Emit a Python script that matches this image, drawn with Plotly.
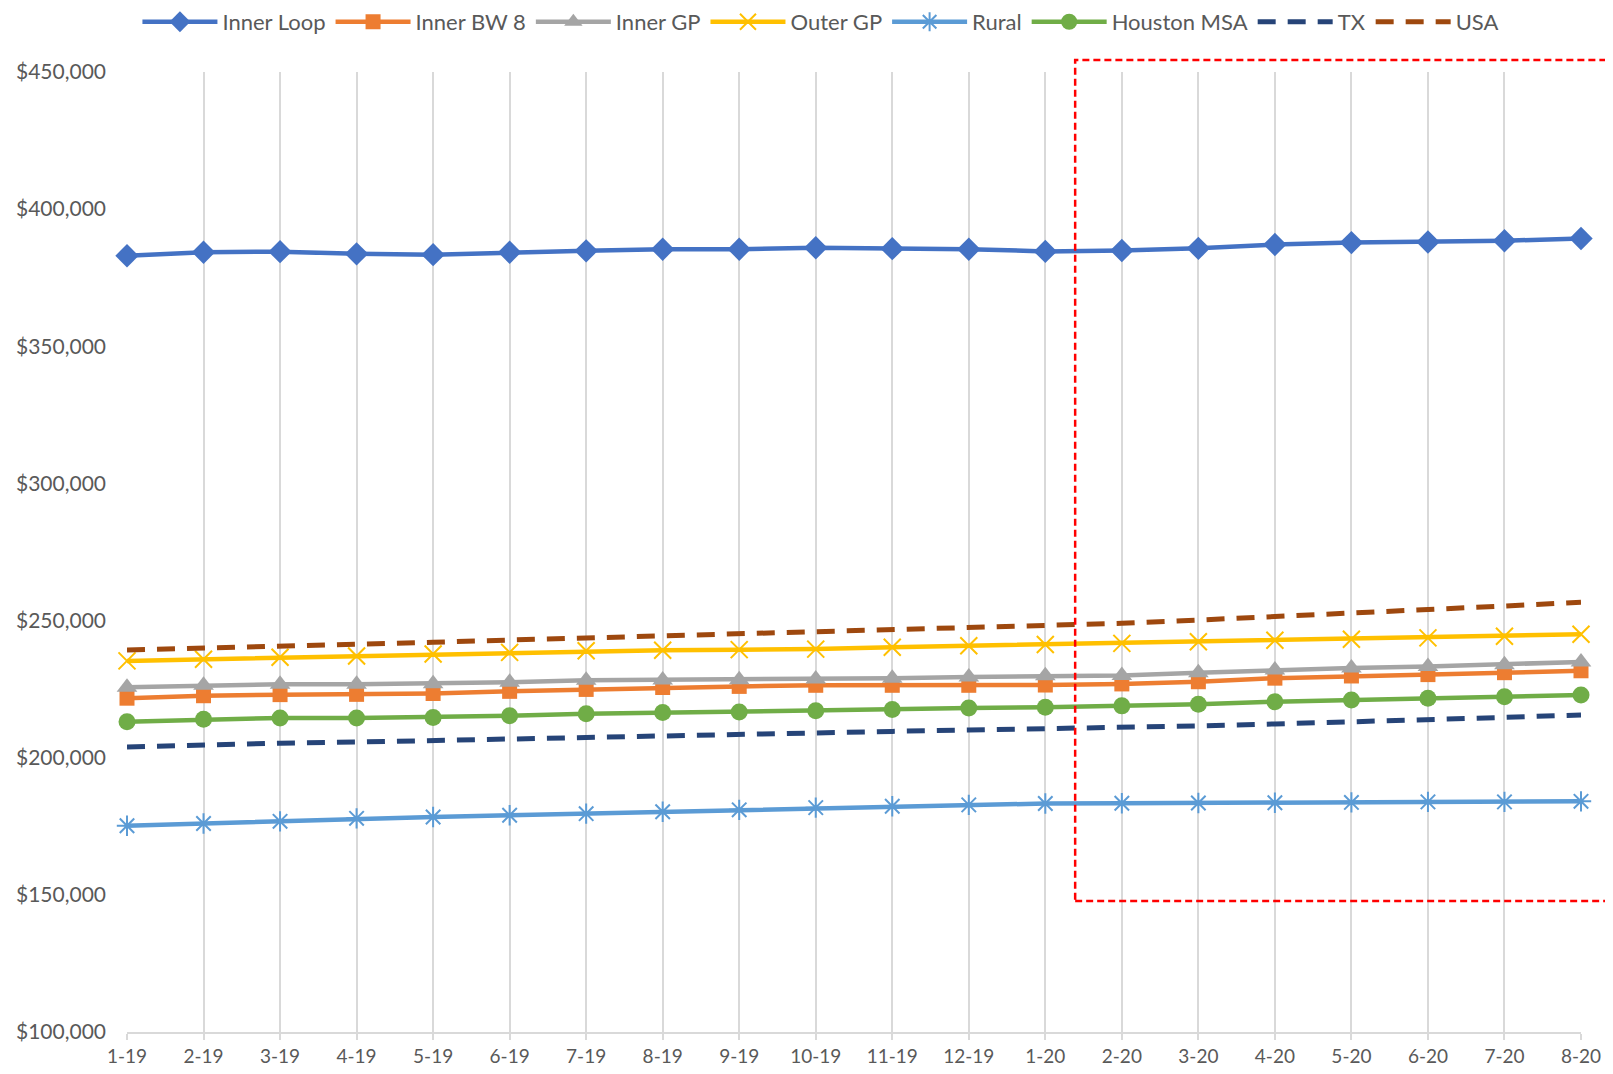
import plotly.graph_objects as go

months = ["1-19", "2-19", "3-19", "4-19", "5-19", "6-19", "7-19", "8-19", "9-19", "10-19",
          "11-19", "12-19", "1-20", "2-20", "3-20", "4-20", "5-20", "6-20", "7-20", "8-20"]

inner_loop = [383.0, 384.3, 384.5, 383.7, 383.4, 384.3, 384.8, 385.4, 385.4, 385.9,
              385.6, 385.4, 384.6, 384.9, 385.7, 387.1, 387.8, 388.0, 388.5, 389.3]
inner_bw8 = [221.7, 222.6, 223.0, 223.1, 223.4, 224.2, 224.9, 225.6, 226.0, 226.4,
             226.4, 226.4, 226.5, 226.9, 227.7, 229.0, 229.8, 230.3, 231.0, 231.7]
inner_gp = [225.7, 226.4, 226.8, 226.8, 227.0, 227.5, 228.2, 228.3, 228.4, 228.7,
            229.0, 229.4, 229.9, 230.0, 231.0, 232.0, 232.7, 233.3, 233.9, 234.9]
outer_gp = [235.3, 235.9, 236.6, 237.1, 237.8, 238.4, 239.0, 239.2, 239.4, 239.6,
            240.3, 240.8, 241.3, 241.7, 242.3, 242.8, 243.2, 243.7, 244.3, 245.0]
rural = [175.2, 176.0, 176.8, 177.9, 178.4, 179.0, 179.6, 180.3, 181.0, 181.8,
         182.3, 182.8, 183.3, 183.4, 183.5, 183.6, 183.7, 183.9, 183.9, 184.1]
houston_msa = [213.1, 214.0, 214.5, 214.5, 214.7, 215.3, 216.0, 216.5, 216.7, 217.1,
               217.6, 218.1, 218.4, 218.9, 219.5, 220.4, 221.0, 221.7, 222.2, 222.9]
tx = [203.9, 204.8, 205.3, 205.7, 206.3, 207.0, 207.6, 208.2, 208.7, 209.2,
      209.6, 210.1, 210.5, 210.8, 211.6, 212.3, 213.0, 213.9, 214.7, 215.6]
usa = [239.3, 239.9, 240.5, 241.3, 242.1, 242.9, 243.7, 244.4, 245.2, 245.9,
       246.7, 247.4, 248.1, 249.0, 250.2, 251.4, 252.6, 253.9, 255.3, 256.7]

y_ticks = [100000, 150000, 200000, 250000, 300000, 350000, 400000, 450000]
y_tick_labels = ["$100,000", "$150,000", "$200,000", "$250,000",
                 "$300,000", "$350,000", "$400,000", "$450,000"]

# highlight box (category-index units and dollar values)
box_x = [12.39, 19.35]
box_y = [147800, 454400]

def k(v):
    return [x * 1000 for x in v]

series = [
    ("Inner Loop", inner_loop, "#4472C4", dict(symbol="diamond", size=18), "solid"),
    ("Inner BW 8", inner_bw8, "#ED7D31", dict(symbol="square", size=15), "solid"),
    ("Inner GP", inner_gp, "#A5A5A5", dict(symbol="triangle-up", size=18), "solid"),
    ("Outer GP", outer_gp, "#FFC000", dict(symbol="x-thin-open", size=17, line=dict(width=2, color="#FFC000")), "solid"),
    ("Rural", rural, "#5B9BD5", dict(symbol="asterisk-open", size=17, line=dict(width=2, color="#5B9BD5")), "solid"),
    ("Houston MSA", houston_msa, "#70AD47", dict(symbol="circle", size=17), "solid"),
    ("TX", tx, "#264478", None, "18px,12px"),
    ("USA", usa, "#9E480E", None, "18px,12px"),
]

fig = go.Figure()
for name, vals, color, marker, dash in series:
    if marker is None:
        fig.add_trace(go.Scatter(x=months, y=k(vals), name=name, mode="lines", cliponaxis=False,
                                 line=dict(color=color, width=5, dash=dash)))
    else:
        m = dict(color=color)
        m.update(marker)
        fig.add_trace(go.Scatter(x=months, y=k(vals), name=name, mode="lines+markers", cliponaxis=False,
                                 line=dict(color=color, width=4.5), marker=m))

# page has an 8px body margin; figure sized so it fills the window exactly
W, H = 1605, 1058
ml, mr, mt, mb = 118.5, 32, 64, 34
n = len(months) - 1
y0, y1 = 100000, 450000

bx0 = box_x[0] / n
bx1 = box_x[1] / n
by0 = (box_y[0] - y0) / (y1 - y0)
by1 = (box_y[1] - y0) / (y1 - y0)
fig.add_shape(type="rect", xref="paper", yref="paper", x0=bx0, x1=bx1, y0=by0, y1=by1,
              line=dict(color="#FF0000", width=2.5, dash="7px,4px"), fillcolor="rgba(0,0,0,0)")

fig.update_layout(
    width=W, height=H,
    margin=dict(l=ml, r=mr, t=mt, b=mb, autoexpand=False),
    paper_bgcolor="white", plot_bgcolor="white",
    font=dict(family="Lato, Carlito, Calibri, sans-serif", color="#595959", size=18),
    legend=dict(orientation="h", xref="container", yref="paper",
                x=0.5065, xanchor="center", y=1.074, yanchor="top",
                font=dict(size=22, color="#595959"), itemwidth=75,
                bgcolor="rgba(0,0,0,0)"),
    showlegend=True,
)
fig.update_xaxes(type="category", range=[0, n], showgrid=True, gridcolor="#D9D9D9", gridwidth=1.5,
                 showline=True, linecolor="#D9D9D9", linewidth=1.5,
                 ticks="outside", ticklen=6, tickcolor="#D9D9D9", tickwidth=1.5,
                 tickfont=dict(size=19, color="#595959"), zeroline=False)
fig.update_yaxes(range=[y0, y1], tickvals=y_ticks, ticktext=y_tick_labels, showgrid=False,
                 showline=False, zeroline=False, ticks="", ticklabelstandoff=20,
                 tickfont=dict(size=21, color="#595959"))

fig.write_html("out.html")
